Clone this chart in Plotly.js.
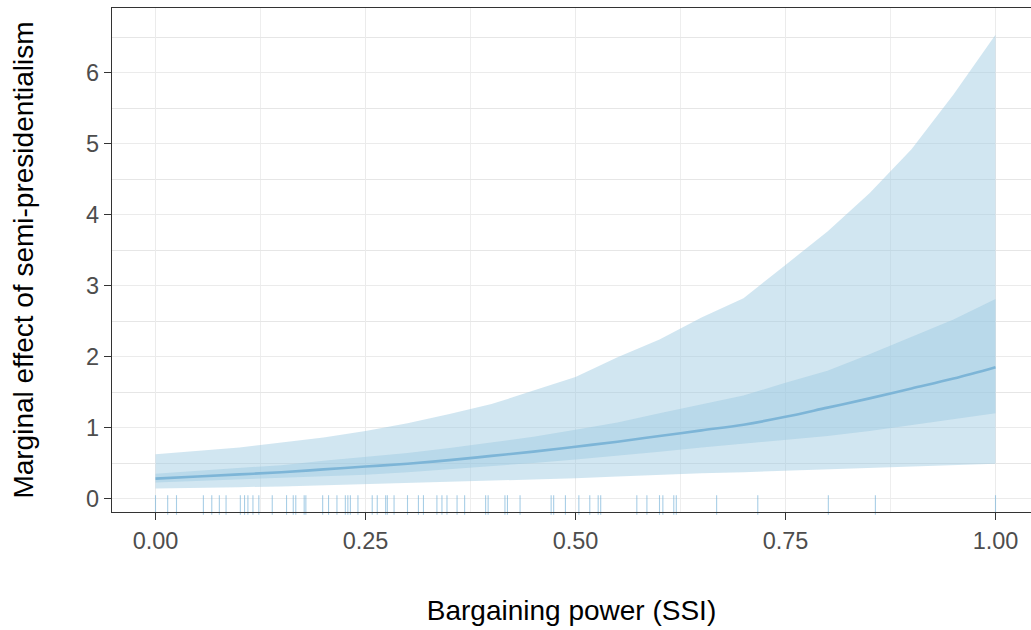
<!DOCTYPE html>
<html>
<head>
<meta charset="utf-8">
<script src="https://cdn.plot.ly/plotly-3.0.1.min.js"></script>
<style>
html,body{margin:0;padding:0;background:#fff;overflow:hidden;}
#chart{width:1031px;height:630px;}
</style>
</head>
<body>
<div id="chart"></div>
<script>
// Bargaining power (SSI) grid
const ssi = [0, 0.05, 0.1, 0.15, 0.2, 0.25, 0.3, 0.35, 0.4, 0.45, 0.5, 0.55, 0.6, 0.65, 0.7, 0.75, 0.8, 0.85, 0.9, 0.95, 1.0];
// Marginal effect estimate
const effect = [0.28, 0.31, 0.34, 0.37, 0.41, 0.45, 0.49, 0.54, 0.60, 0.66, 0.73, 0.80, 0.88, 0.96, 1.04, 1.15, 1.28, 1.41, 1.55, 1.69, 1.85];
// Outer (95%) interval
const outerUpper = [0.625, 0.67, 0.72, 0.79, 0.86, 0.95, 1.06, 1.19, 1.33, 1.52, 1.71, 1.99, 2.24, 2.55, 2.82, 3.29, 3.76, 4.30, 4.92, 5.69, 6.53];
const outerLower = [0.14, 0.145, 0.16, 0.17, 0.185, 0.20, 0.225, 0.24, 0.255, 0.27, 0.285, 0.31, 0.335, 0.355, 0.37, 0.39, 0.41, 0.43, 0.45, 0.47, 0.49];
// Inner interval
const innerUpper = [0.35, 0.39, 0.43, 0.47, 0.53, 0.58, 0.64, 0.71, 0.79, 0.87, 0.97, 1.07, 1.20, 1.32, 1.45, 1.63, 1.80, 2.03, 2.27, 2.52, 2.81];
const innerLower = [0.225, 0.245, 0.265, 0.29, 0.31, 0.335, 0.37, 0.41, 0.45, 0.50, 0.55, 0.60, 0.66, 0.72, 0.77, 0.82, 0.88, 0.95, 1.03, 1.11, 1.20];
// Rug: observed SSI values
const rug = [0.000, 0.0145, 0.025, 0.057, 0.067, 0.076, 0.084, 0.101, 0.106, 0.110, 0.116, 0.123, 0.139, 0.156, 0.164, 0.167, 0.177, 0.179, 0.199, 0.206, 0.216, 0.226, 0.229, 0.232, 0.241, 0.258, 0.264, 0.274, 0.276, 0.284, 0.300, 0.313, 0.319, 0.335, 0.341, 0.347, 0.359, 0.368, 0.393, 0.396, 0.416, 0.419, 0.434, 0.471, 0.474, 0.488, 0.504, 0.517, 0.527, 0.530, 0.573, 0.585, 0.600, 0.604, 0.617, 0.620, 0.668, 0.717, 0.801, 0.857, 1.000];
const xTicks = [0, 0.25, 0.5, 0.75, 1];
const xTickText = ['0.00', '0.25', '0.50', '0.75', '1.00'];
const xMinor = [0.125, 0.375, 0.625, 0.875];
const yTicks = [0, 1, 2, 3, 4, 5, 6];
const yMinor = [0.5, 1.5, 2.5, 3.5, 4.5, 5.5, 6.5];

const mL = 112, mR = 0, mT = 8, mB = 118, W = 1031, H = 630;
// scales chosen so that grid lines land on pixel centres
const xPxPerUnit = 840, xZeroPx = 155.5;
const xRange = [(mL - xZeroPx) / xPxPerUnit, (W - mR - xZeroPx) / xPxPerUnit];
const yPxPerUnit = 71, yZeroPx = 498.5;
const yRange = [-(H - mB - yZeroPx) / yPxPerUnit, (yZeroPx - mT) / yPxPerUnit];
const plotH = H - mT - mB;
const rugLenPx = 14;
// rug tick centre, derived from the y range (ticks start at panel bottom)
const rugYc = yRange[0] + (rugLenPx / 2) / plotH * (yRange[1] - yRange[0]);

const bandColor = 'rgba(158,202,225,0.47)';
const rugColor = 'rgba(110,174,214,0.6)';

const traces = [
  {x: ssi, y: outerLower, type: 'scatter', mode: 'lines', line: {width: 0, color: 'rgba(0,0,0,0)'}, hoverinfo: 'skip', showlegend: false},
  {x: ssi, y: outerUpper, type: 'scatter', mode: 'lines', fill: 'tonexty', fillcolor: bandColor, line: {width: 0, color: 'rgba(0,0,0,0)'}, hoverinfo: 'skip', showlegend: false},
  {x: ssi, y: innerLower, type: 'scatter', mode: 'lines', line: {width: 0, color: 'rgba(0,0,0,0)'}, hoverinfo: 'skip', showlegend: false},
  {x: ssi, y: innerUpper, type: 'scatter', mode: 'lines', fill: 'tonexty', fillcolor: bandColor, line: {width: 0, color: 'rgba(0,0,0,0)'}, hoverinfo: 'skip', showlegend: false},
  {x: ssi, y: effect, type: 'scatter', mode: 'lines', line: {width: 2.6, color: '#7DB5D7', shape: 'spline'}, showlegend: false},
  {x: rug, y: rug.map(() => rugYc), type: 'scatter', mode: 'markers', cliponaxis: false,
   marker: {symbol: 'line-ns-open', size: rugLenPx, color: rugColor, line: {width: 1.1, color: rugColor}}, hoverinfo: 'skip', showlegend: false}
];

const fontFam = '"Liberation Sans", Arial, sans-serif';
const layout = {
  width: W, height: H,
  margin: {l: mL, r: mR, t: mT, b: mB, pad: 0},
  paper_bgcolor: '#ffffff', plot_bgcolor: '#ffffff',
  font: {family: fontFam, size: 23, color: '#4D4D4D'},
  showlegend: false,
  xaxis: {
    range: xRange, tickvals: xTicks, ticktext: xTickText,
    showline: true, mirror: true, linecolor: '#333333', linewidth: 1.3,
    ticks: 'outside', ticklen: 7, tickwidth: 1.3, tickcolor: '#333333',
    tickfont: {family: fontFam, size: 23.5, color: '#4D4D4D'},
    showgrid: true, gridcolor: '#EBEBEB', gridwidth: 1, zeroline: false,
    minor: {tickvals: xMinor, showgrid: true, gridcolor: '#EEEEEE', gridwidth: 1, ticks: ''},
    title: {text: 'Bargaining power (SSI)', font: {family: fontFam, size: 28, color: '#000000'}, standoff: 48},
    automargin: false
  },
  yaxis: {
    range: yRange, tickvals: yTicks,
    showline: true, mirror: false, linecolor: '#333333', linewidth: 1.3,
    ticks: 'outside', ticklen: 7, tickwidth: 1.3, tickcolor: '#333333',
    tickfont: {family: fontFam, size: 23.5, color: '#4D4D4D'},
    showgrid: true, gridcolor: '#EBEBEB', gridwidth: 1, zeroline: false,
    minor: {tickvals: yMinor, showgrid: true, gridcolor: '#E6E6E6', gridwidth: 1, ticks: ''},
    title: {text: 'Marginal effect of semi-presidentialism', font: {family: fontFam, size: 28, color: '#000000'}, standoff: 44},
    automargin: false
  }
};

Plotly.newPlot('chart', traces, layout, {displayModeBar: false, staticPlot: true});
</script>
</body>
</html>
